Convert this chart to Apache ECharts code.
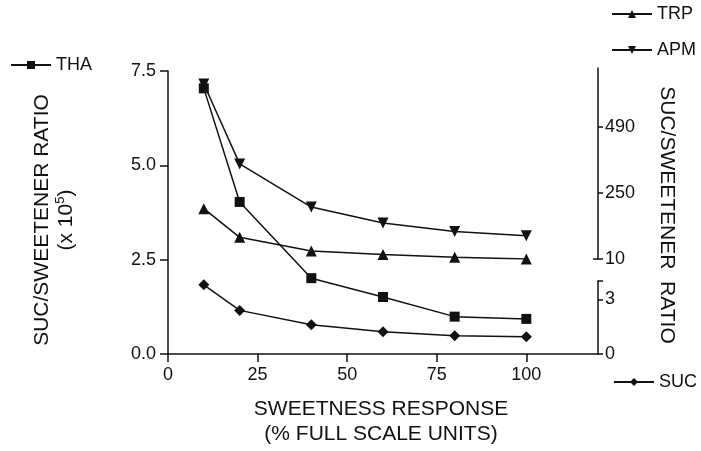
<!DOCTYPE html>
<html>
<head>
<meta charset="utf-8">
<script src="https://cdn.jsdelivr.net/npm/echarts@6/dist/echarts.min.js"></script>
<style>
  html, body { margin: 0; padding: 0; background: #fff; }
  #chart { width: 701px; height: 451px; }
</style>
</head>
<body>
<div id="chart"></div>
<script>
  // sweetness response (% full scale units)
  var sweetness = [10, 20, 40, 60, 80, 100];
  // left axis, x 10^5
  var tha = [7.04, 4.03, 2.01, 1.51, 0.99, 0.93];
  // upper right axis
  var trp = [193, 89, 39, 26, 16, 10];
  var apm = [647, 356, 199, 141, 110, 95];
  // lower right axis
  var suc = [3.79, 2.39, 1.60, 1.22, 1.00, 0.94];

  var xTicks = [0, 25, 50, 75, 100];
  var leftTicks = [0, 2.5, 5, 7.5];
  var upperRightTicks = [10, 250, 490];
  var lowerRightTicks = [0, 3];

  function pairs(ys) {
    return sweetness.map(function (x, i) { return [x, ys[i]]; });
  }

  var black = '#111';
  var font = 'Liberation Sans';

  function line(show) {
    return { show: show, onZero: false, lineStyle: { color: black, width: 1.5 } };
  }
  function ticks(values, len, inside) {
    return { show: true, inside: !!inside, length: len, customValues: values,
             lineStyle: { color: black, width: 1.5 } };
  }
  function labels(values, margin) {
    return { show: true, margin: margin, customValues: values,
             color: black, fontSize: 18, fontFamily: font };
  }

  var gridLeft = 168, gridRight = 103;

  var leftLabels = labels(leftTicks, 12);
  leftLabels.formatter = function (v) { return Number(v).toFixed(1); };

  var chart = echarts.init(document.getElementById('chart'));
  chart.setOption({
    animation: false,
    grid: [
      { left: gridLeft, right: gridRight, top: 71, bottom: 97 },
      { left: gridLeft, right: gridRight, top: 68, height: 191 },
      { left: gridLeft, right: gridRight, top: 281, bottom: 97 }
    ],
    xAxis: [
      {
        type: 'value', gridIndex: 0, min: 0, max: 120,
        axisLine: line(true),
        axisTick: ticks(xTicks, 8),
        axisLabel: labels(xTicks, 12),
        splitLine: { show: false }
      },
      { type: 'value', gridIndex: 1, min: 0, max: 120, show: false },
      { type: 'value', gridIndex: 2, min: 0, max: 120, show: false }
    ],
    yAxis: [
      {
        type: 'value', gridIndex: 0, min: 0, max: 7.5,
        axisLine: line(true),
        axisTick: ticks(leftTicks, 8),
        axisLabel: leftLabels,
        splitLine: { show: false }
      },
      {
        type: 'value', gridIndex: 1, position: 'right', min: 10, max: 705,
        axisLine: line(true),
        axisTick: ticks(upperRightTicks, 5),
        axisLabel: labels(upperRightTicks, 7),
        splitLine: { show: false }
      },
      {
        type: 'value', gridIndex: 2, position: 'right', min: 0, max: 4,
        axisLine: line(true),
        axisTick: ticks([0, 3, 4], 5),
        axisLabel: labels(lowerRightTicks, 7),
        splitLine: { show: false }
      },
      {
        // cap at the bottom of the upper segment
        type: 'value', gridIndex: 1, position: 'right', min: 10, max: 705,
        axisLine: line(false),
        axisTick: ticks([10], 5, true),
        axisLabel: { show: false },
        splitLine: { show: false }
      }
    ],
    legend: [
      { data: ['THA'], left: 5, top: 51 },
      { data: ['TRP'], left: 606, top: 0 },
      { data: ['APM'], left: 606, top: 36 },
      { data: ['SUC'], left: 608, top: 368 }
    ].map(function (l) {
      return Object.assign({
        itemWidth: 40, itemHeight: 10,
        textStyle: { color: black, fontSize: 18, fontFamily: font }
      }, l);
    }),
    series: [
      {
        name: 'THA', type: 'line', xAxisIndex: 0, yAxisIndex: 0,
        data: pairs(tha), symbol: 'rect', symbolSize: 10
      },
      {
        name: 'TRP', type: 'line', xAxisIndex: 1, yAxisIndex: 1,
        data: pairs(trp), symbol: 'triangle', symbolSize: 11
      },
      {
        name: 'APM', type: 'line', xAxisIndex: 1, yAxisIndex: 1,
        data: pairs(apm), symbol: 'triangle', symbolRotate: 180, symbolSize: 11
      },
      {
        name: 'SUC', type: 'line', xAxisIndex: 2, yAxisIndex: 2,
        data: pairs(suc), symbol: 'diamond', symbolSize: 11
      }
    ].map(function (s) {
      return Object.assign({
        lineStyle: { color: black, width: 1.5 },
        itemStyle: { color: black }
      }, s);
    }),
    graphic: [
      {
        type: 'text', x: 54, y: 220, rotation: Math.PI / 2,
        style: {
          text: 'SUC/SWEETENER RATIO\n(x 10{s|5})',
          fontSize: 21, fontFamily: font, lineHeight: 24, fill: black,
          align: 'center', verticalAlign: 'middle',
          rich: { s: { fontSize: 13, fontFamily: font, verticalAlign: 'top', fill: black } }
        }
      },
      {
        type: 'text', x: 667, y: 215, rotation: -Math.PI / 2,
        style: {
          text: 'SUC/SWEETENER  RATIO',
          fontSize: 21, fontFamily: font, fill: black,
          align: 'center', verticalAlign: 'middle'
        }
      },
      {
        type: 'text', x: 381, y: 422,
        style: {
          text: 'SWEETNESS RESPONSE\n(% FULL SCALE UNITS)',
          fontSize: 21, fontFamily: font, lineHeight: 25, fill: black,
          align: 'center', verticalAlign: 'middle'
        }
      }
    ]
  });
</script>
</body>
</html>
